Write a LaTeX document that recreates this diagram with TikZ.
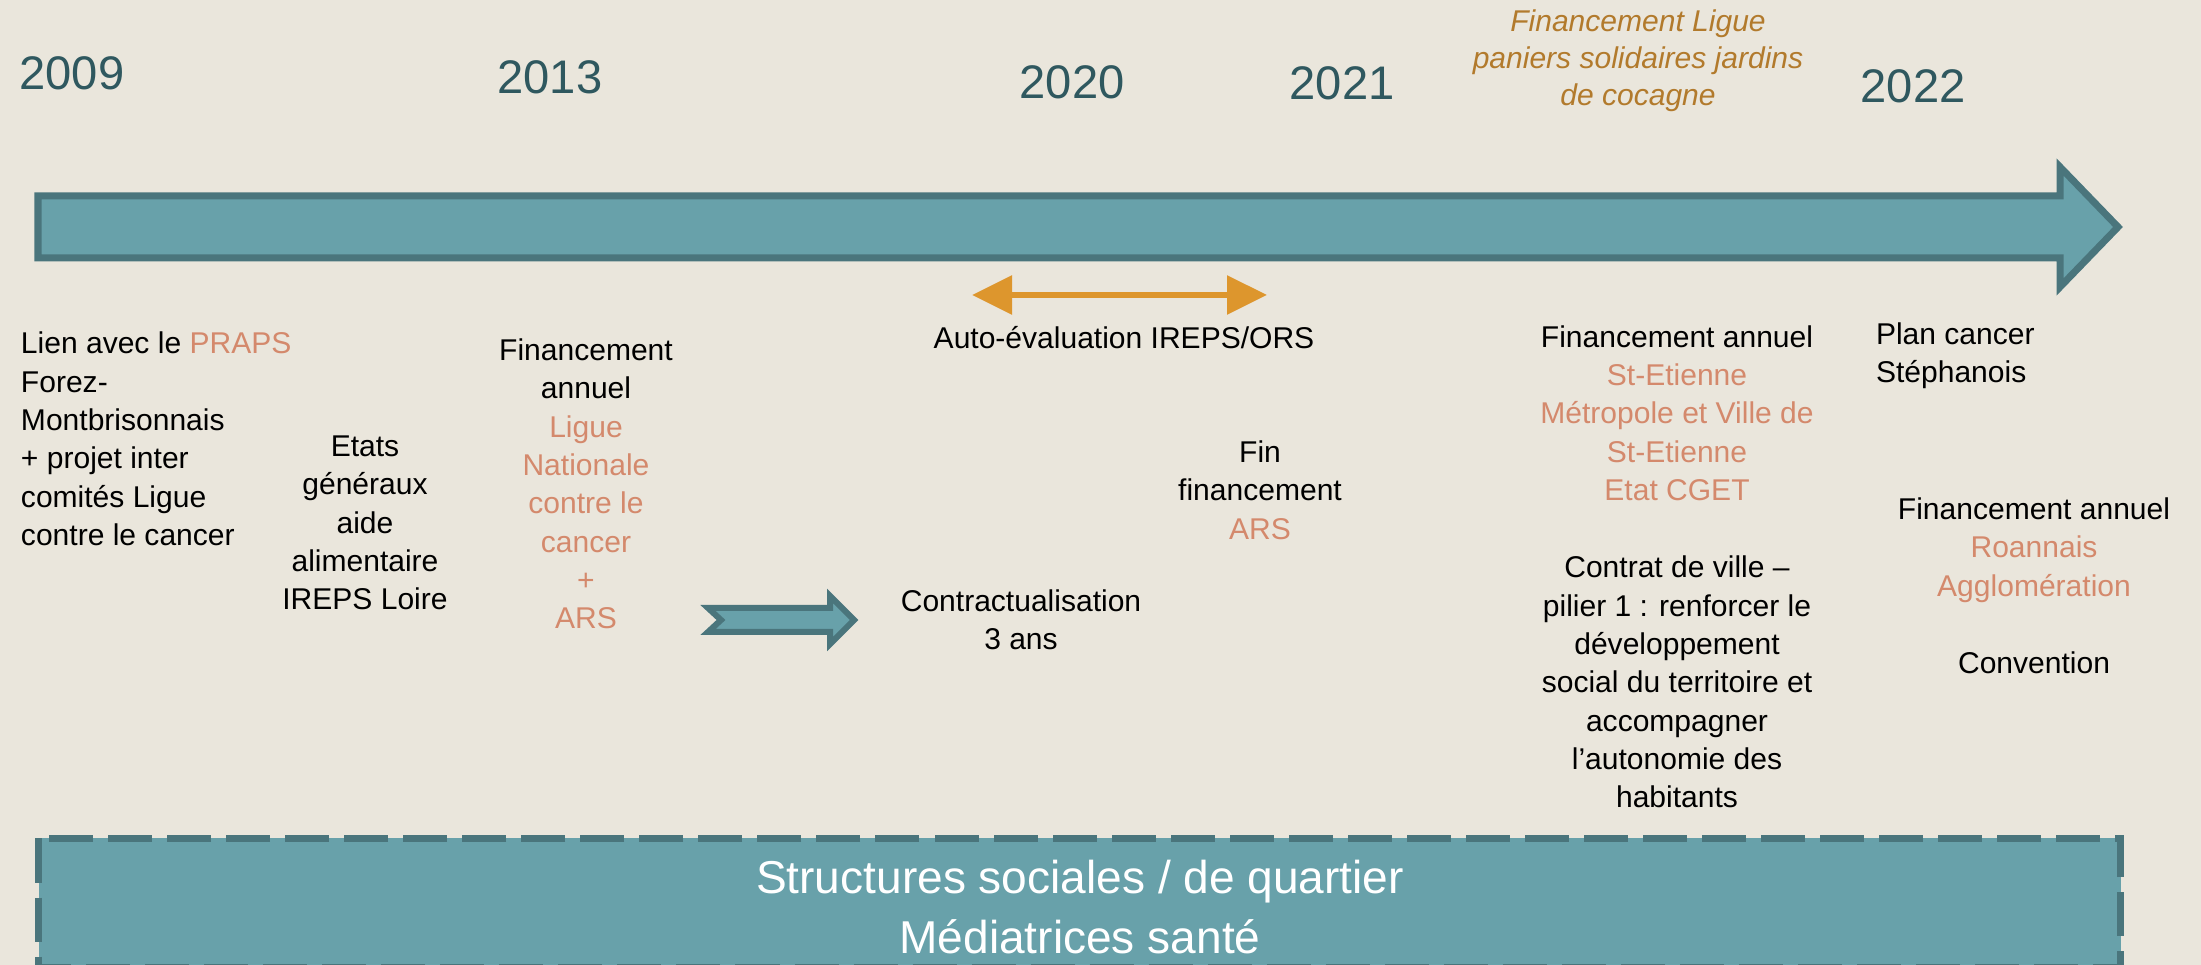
\documentclass[tikz,border=0pt]{standalone}
\usepackage{fontspec}
\setmainfont{Liberation Sans}
\usetikzlibrary{arrows.meta}
\definecolor{bgsand}{RGB}{234,230,220}
\definecolor{tealfill}{RGB}{104,161,170}
\definecolor{tealline}{RGB}{74,117,124}
\definecolor{yearcol}{RGB}{47,88,95}
\definecolor{salmon}{RGB}{212,137,108}
\definecolor{ochre}{RGB}{178,122,44}
\definecolor{orangearr}{RGB}{221,150,45}

\begin{document}
\begin{tikzpicture}[x=0.01cm, y=-0.01cm]
\tikzset{ inner sep=0pt, outer sep=0pt,
  year/.style={text=yearcol, font=\fontsize{13.4}{16}\selectfont},
  txt/.style={align=center, font=\fontsize{8.54}{10.9}\selectfont},
  txtl/.style={align=left, anchor=west, font=\fontsize{8.54}{10.9}\selectfont},
  band/.style={fill=tealfill, draw=tealline, line width=0.07cm, line join=miter},
}
%\draw [lightgray, dashed](0,0) grid (2201,965);

\useasboundingbox (0,0) rectangle (2201,965);
\clip (0,0) rectangle (2201,965);
\fill [bgsand] (0,0) rectangle (2201,965);

\draw [band] (38,196) -- (2060,196) -- (2060,167) -- (2118,227)
  -- (2060,287) -- (2060,258) -- (38,258) -- cycle;
\draw [band, line width=0.06cm] (708,608) -- (830,608) -- (830,596) -- (854,620)
  -- (830,644) -- (830,632) -- (708,632) -- (721,620) -- cycle;
\draw [fill=tealfill, draw=tealline, line width=0.07cm, dash pattern=on 0.44cm off 0.15cm]
  (38.5,838.5) rectangle (2120.5,968);

\node [year] (Y09) at (72,73) {2009};
\node [year] (Y13) at (550,77) {2013};
\node [year] (Y20) at (1072,82) {2020};
\node [year] (Y21) at (1342,83) {2021};
\node [year] (Y22) at (1913,86) {2022};

\node [txt, text=ochre, font=\fontsize{8.54}{10.5}\selectfont\itshape] (JARD) at (1638,61)
  {Financement Ligue\\paniers solidaires jardins\\de cocagne};

\coordinate (AL) at (972,295);
\coordinate (AR) at (1267,295);
\draw [orangearr, line width=0.06cm,
  {Triangle[length=0.4cm,width=0.38cm]}-{Triangle[length=0.4cm,width=0.38cm]}] (AL) -- (AR);

\node [txtl] (LIEN) at (21,439) {Lien avec le \textcolor{salmon}{PRAPS}\\Forez-\\Montbrisonnais\\+ projet inter\\comités Ligue\\contre le cancer};
\node [txt] (ETATS) at (365,523) {Etats\\généraux\\aide\\alimentaire\\IREPS Loire};
\node [txt] (LNCC) at (586,484) {Financement\\annuel\\\textcolor{salmon}{Ligue}\\\textcolor{salmon}{Nationale}\\\textcolor{salmon}{contre le}\\\textcolor{salmon}{cancer}\\\textcolor{salmon}{+}\\\textcolor{salmon}{ARS}};
\node [txt] (AUTO) at (1124,338) {Auto-évaluation IREPS/ORS};
\node [txt] (CONTRA) at (1021,620) {Contractualisation\\3 ans};
\node [txt] (FIN) at (1260,490) {Fin\\financement\\\textcolor{salmon}{ARS}};
\node [txt] (STE) at (1677,413) {Financement annuel\\\textcolor{salmon}{St-Etienne}\\\textcolor{salmon}{Métropole et Ville de}\\\textcolor{salmon}{St-Etienne}\\\textcolor{salmon}{Etat CGET}};
\node [txt] (CV) at (1677,682) {Contrat de ville –\\pilier 1 : renforcer le\\développement\\social du territoire et\\accompagner\\l’autonomie des\\habitants};
\node [txtl] (PLAN) at (1876,356) {Plan cancer\\Stéphanois};
\node [txt] (ROA) at (2034,550) {Financement annuel\\\textcolor{salmon}{Roannais}\\\textcolor{salmon}{Agglomération}};
\node [txt] (CONV) at (2034,663) {Convention};

\node [txt, text=white, font=\fontsize{13.1}{17}\selectfont] (SOC) at (1080,907)
  {Structures sociales / de quartier\\Médiatrices santé};

\end{tikzpicture}
\end{document}
